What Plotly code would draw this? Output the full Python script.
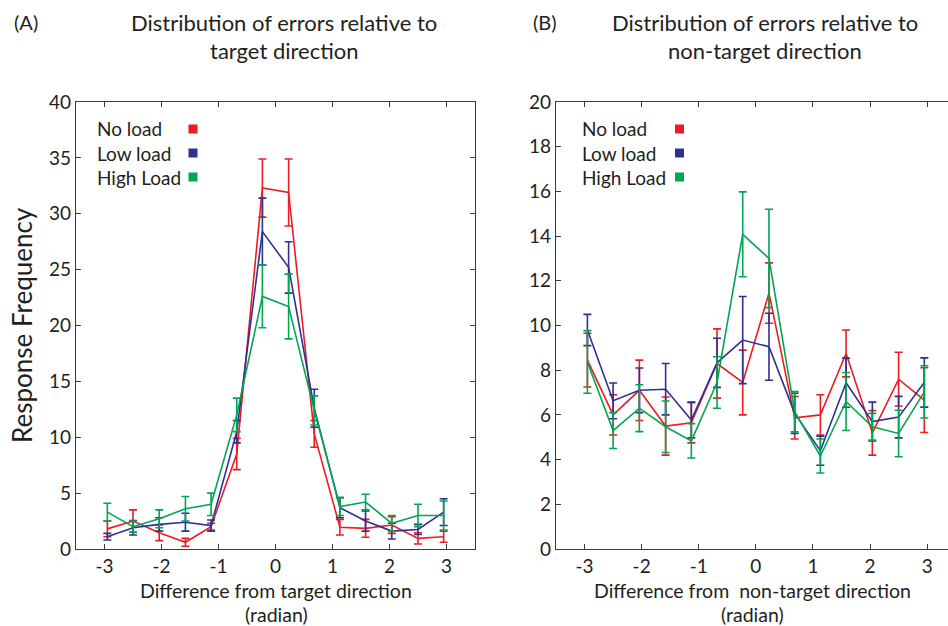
import plotly.graph_objects as go

# ---------------- data ----------------
x_bins = [-2.95, -2.5, -2.04, -1.58, -1.13, -0.68, -0.23, 0.23, 0.68, 1.13, 1.58, 2.04, 2.5, 2.95]

series_names = ["No load", "Low load", "High Load"]
series_colors = ["#ED1C24", "#2E3192", "#00A651"]

# Panel A: errors relative to target direction
a_no = [1.8, 2.5, 1.45, 0.6, 2.0, 8.5, 32.3, 31.9, 10.3, 1.95, 1.85, 2.15, 0.95, 1.1]
a_no_err = [0.7, 1.0, 0.7, 0.35, 0.3, 1.4, 2.6, 3.0, 1.2, 0.7, 0.8, 0.75, 0.5, 0.5]
a_low = [1.1, 1.9, 2.2, 2.4, 2.1, 10.5, 28.4, 25.2, 12.6, 3.7, 2.5, 1.6, 1.75, 3.3]
a_low_err = [0.3, 0.65, 0.6, 0.8, 0.5, 1.0, 3.0, 2.3, 1.7, 0.9, 0.9, 0.7, 0.45, 1.2]
a_high = [3.3, 2.0, 2.7, 3.6, 4.0, 12.0, 22.6, 21.7, 12.4, 3.8, 4.2, 2.3, 3.0, 3.0]
a_high_err = [0.8, 0.5, 0.8, 1.1, 1.0, 1.5, 2.8, 2.9, 1.3, 0.8, 0.7, 0.7, 1.0, 1.3]

# Panel B: errors relative to non-target direction
b_no = [8.45, 6.0, 7.1, 5.5, 5.65, 8.3, 7.45, 11.45, 5.87, 6.0, 8.75, 5.2, 7.6, 6.66]
b_no_err = [1.2, 0.9, 1.35, 1.3, 0.9, 1.55, 1.45, 1.35, 0.95, 0.9, 1.05, 1.0, 1.2, 1.45]
b_low = [9.8, 6.63, 7.1, 7.15, 5.77, 8.33, 9.35, 9.05, 6.07, 4.4, 7.44, 5.7, 5.9, 7.45]
b_low_err = [0.7, 0.8, 1.0, 1.15, 0.8, 1.1, 1.95, 1.5, 0.9, 0.65, 1.1, 0.87, 0.93, 1.1]
b_high = [8.37, 5.3, 6.3, 5.47, 4.84, 7.45, 14.08, 13.0, 6.14, 4.16, 6.6, 5.47, 5.17, 7.03]
b_high_err = [1.4, 0.8, 1.05, 1.15, 0.77, 1.15, 1.9, 2.2, 0.9, 0.76, 1.3, 0.6, 1.04, 1.17]

a_ticks_y = [0, 5, 10, 15, 20, 25, 30, 35, 40]
b_ticks_y = [0, 2, 4, 6, 8, 10, 12, 14, 16, 18, 20]
ticks_x = [-3, -2, -1, 0, 1, 2, 3]
ticks_x_text = ["-3", "-2", "-1", "0", "1", "2", "3"]

# ---------------- figure ----------------
W, H = 948, 626
FONT = "Lato, 'Open Sans', sans-serif"
TXT = "#231F20"
AX = "#3a3a3a"

fig = go.Figure()

panels = [
    ("x", "y", [a_no, a_low, a_high], [a_no_err, a_low_err, a_high_err]),
    ("x2", "y2", [b_no, b_low, b_high], [b_no_err, b_low_err, b_high_err]),
]
for xa, ya, vals, errs in panels:
    for name, col, v, e in zip(series_names, series_colors, vals, errs):
        fig.add_trace(go.Scatter(
            x=x_bins, y=v, xaxis=xa, yaxis=ya, mode="lines", name=name,
            line=dict(color=col, width=1.6),
            error_y=dict(type="data", array=e, visible=True, color=col,
                         thickness=1.6, width=4),
            showlegend=False,
        ))

def px_x(p):
    return p / W

def px_y(p):
    return 1 - p / H

y_dom = [px_y(549), px_y(102)]
common_axis = dict(showline=True, linecolor=AX, linewidth=1.3, ticks="inside",
                   ticklen=5, tickcolor=AX, tickwidth=1.2, showgrid=False,
                   zeroline=False, automargin=False,
                   tickfont=dict(family=FONT, size=19, color=TXT))

fig.update_layout(
    width=W, height=H,
    margin=dict(l=0, r=0, t=0, b=0, pad=0, autoexpand=False),
    paper_bgcolor="white", plot_bgcolor="white",
    showlegend=False,
    xaxis=dict(domain=[px_x(76), px_x(475)], range=[-3.5, 3.5], tickvals=ticks_x,
               ticktext=ticks_x_text, mirror="ticks", anchor="y", **common_axis),
    yaxis=dict(domain=y_dom, range=[0, 40], tickvals=a_ticks_y,
               mirror="ticks", anchor="x", **common_axis),
    xaxis2=dict(domain=[px_x(556), 1.0], range=[-3.5, 3.365], tickvals=ticks_x,
                ticktext=ticks_x_text, mirror="ticks", anchor="y2", **common_axis),
    yaxis2=dict(domain=y_dom, range=[0, 20], tickvals=b_ticks_y,
                mirror=False, anchor="x2", **common_axis),
)

ann = []
def add_text(x, y, text, size, xanchor="center", yanchor="middle", angle=0, pad=1):
    ann.append(dict(xref="paper", yref="paper", x=px_x(x), y=px_y(y), text=text,
                    showarrow=False, xanchor=xanchor, yanchor=yanchor,
                    textangle=angle, borderpad=pad,
                    font=dict(family=FONT, size=size, color=TXT)))

# panel labels and titles
add_text(12, 22, "(A)", 20, xanchor="left")
add_text(531, 22, "(B)", 20, xanchor="left")
add_text(284, 22, "Distribution of errors relative to", 22)
add_text(284, 50, "target direction", 22)
add_text(765, 22, "Distribution of errors relative to", 22)
add_text(765, 50, "non-target direction", 22)

# axis titles
add_text(276, 590, "Difference from target direction", 19.5, pad=0)
add_text(276, 614, "(radian)", 19.5, pad=0)
add_text(752, 590, "Difference from  non-target direction", 19.5, pad=0)
add_text(752, 614, "(radian)", 19.5, pad=0)
add_text(22, 325, "Response Frequency", 26, angle=-90)

# in-plot legends
shapes = []
for lx, sx in [(95, 193), (580, 679.5)]:
    for i, (name, col) in enumerate(zip(series_names, series_colors)):
        cy = 129 + i * 24
        add_text(lx, cy, name, 19, xanchor="left")
        shapes.append(dict(type="rect", xref="paper", yref="paper",
                           x0=px_x(sx - 4.5), x1=px_x(sx + 4.5),
                           y0=px_y(cy + 4.5), y1=px_y(cy - 4.5),
                           fillcolor=col, line=dict(width=0)))

fig.update_layout(annotations=ann, shapes=shapes)
fig.write_html("out.html")
